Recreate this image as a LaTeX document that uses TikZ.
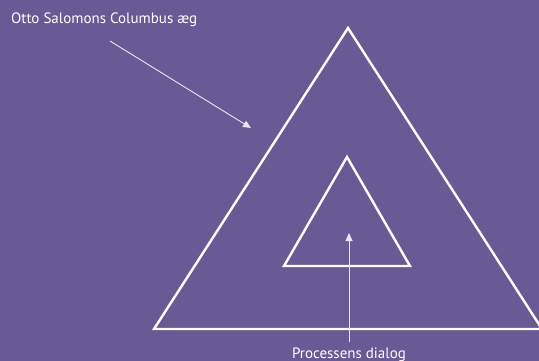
\documentclass[tikz,border=0pt]{standalone}
\usepackage{fontspec}
\setmainfont{PT Sans}
\usepackage{xcolor}
\usetikzlibrary{positioning,calc,arrows.meta}

\definecolor{bgpurple}{RGB}{105,89,148}

\begin{document}
\begin{tikzpicture}[
    x=1pt, y=-1pt,
    lbl/.style={text=white, font=\fontsize{15}{17}\selectfont, inner sep=0pt},
    tri/.style={draw=white, line width=2.4pt, line join=miter},
    pointer/.style={-{Triangle[length=8pt, width=7pt]}, draw=white!85!bgpurple, fill=white!85!bgpurple, line width=0.9pt}
]

% ---- background ----
\fill[bgpurple] (0,0) rectangle (539,361);
\useasboundingbox (0,0) rectangle (539,361);
\clip (0,0) rectangle (539,361);

% ---- triangles ----
\draw[tri] (348,28) -- (542,329) -- (154,329) -- cycle;
\draw[tri] (347,157) -- (410,266) -- (284,266) -- cycle;

% ---- labels ----
\node[lbl, anchor=base west] (otto) at (11,24) {Otto Salomons Columbus æg};
\node[lbl, anchor=base] (dialog) at (349,358) {Processens dialog};

% Pointers
\coordinate (ottoFrom) at (110,41);
\coordinate (ottoTo) at (251,128);
\coordinate (dialogFrom) at (349,342);
\coordinate (dialogTo) at (349,233);
\draw[pointer] (ottoFrom) -- (ottoTo);
\draw[pointer] (dialogFrom) -- (dialogTo);
\end{tikzpicture}
\end{document}
